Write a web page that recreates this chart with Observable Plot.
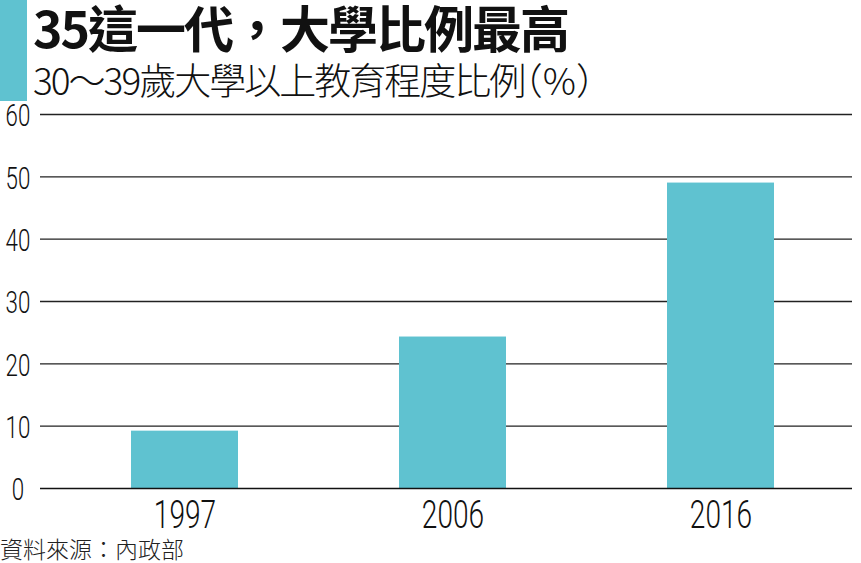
<!DOCTYPE html>
<html>
<head>
<meta charset="utf-8">
<script src="https://cdn.jsdelivr.net/npm/d3@7"></script>
<script src="https://cdn.jsdelivr.net/npm/@observablehq/plot@0.6"></script>
<style>
  html, body { margin: 0; padding: 0; background: #fff; }
  body { width: 861px; height: 563px; overflow: hidden; font-family: "Noto Sans CJK TC", sans-serif; color: #111; }
  #header { position: relative; height: 100px; }
  #bar { position: absolute; left: 0; top: 0; width: 27px; height: 101px; background: #5fc2d0; }
  #title { position: absolute; left: 33px; top: 1px; font-size: 50px; line-height: 50px; font-weight: 700; letter-spacing: -2px; white-space: nowrap; }
  #subtitle { position: absolute; left: 33px; top: 61px; font-size: 37px; line-height: 37px; font-weight: 300; letter-spacing: -2px; white-space: nowrap; }
  #subtitle .h { font-feature-settings: "halt"; letter-spacing: 0; }
  #chart svg { display: block; }
  #source { height: 25px; font-size: 23px; line-height: 23px; font-weight: 300; margin-top: -1px; white-space: nowrap; color: #222; }
</style>
</head>
<body>
<div id="header">
  <div id="bar"></div>
  <div id="title">35這一代，大學比例最高</div>
  <div id="subtitle">30～39歲大學以上教育程度比例<span class="h">（%）</span></div>
</div>
<div id="chart"></div>
<div id="source">資料來源：內政部</div>
<script>
const years = ["1997", "2006", "2016"];
const values = [9.2, 24.3, 49.0];
const yTicks = [0, 10, 20, 30, 40, 50, 60];

const data = years.map((year, i) => ({year, value: values[i]}));
const teal = "#5fc2d0";
const numFont = "Roboto, 'Liberation Sans', sans-serif";

const chart = Plot.plot({
  width: 861,
  height: 438,
  marginTop: 14,
  marginBottom: 50,
  marginLeft: 40,
  marginRight: 9,
  style: {fontFamily: numFont, fontWeight: 300, color: "#111", background: "#fff", overflow: "visible"},
  x: {domain: years, paddingInner: 0.6, paddingOuter: 0.313, align: 0.54, axis: null, label: null},
  y: {domain: [0, 60], axis: null, label: null},
  marks: [
    Plot.ruleY(yTicks.filter(d => d > 0), {stroke: "#222", strokeWidth: 1.3}),
    Plot.barY(data, {x: "year", y: "value", fill: teal}),
    Plot.ruleY([0], {stroke: "#111", strokeWidth: 1.5}),
    Plot.axisX({label: null, tickSize: 0, tickPadding: 11.5, fontSize: 39, fill: "#111"}),
    Plot.axisY({label: null, ticks: yTicks, tickSize: 0, tickPadding: 22.5, textAnchor: "middle", fontSize: 31, dy: 2, fill: "#111", tickFormat: d => String(d)})
  ]
});
document.getElementById("chart").appendChild(chart);

// condense the numeric tick labels (the reference uses a narrow typeface)
d3.select(chart)
  .selectAll('[aria-label="x-axis tick label"] text, [aria-label="y-axis tick label"] text')
  .each(function () {
    const w = this.getComputedTextLength();
    this.setAttribute("textLength", (w * 0.72).toFixed(1));
    this.setAttribute("lengthAdjust", "spacingAndGlyphs");
  });
</script>
</body>
</html>
